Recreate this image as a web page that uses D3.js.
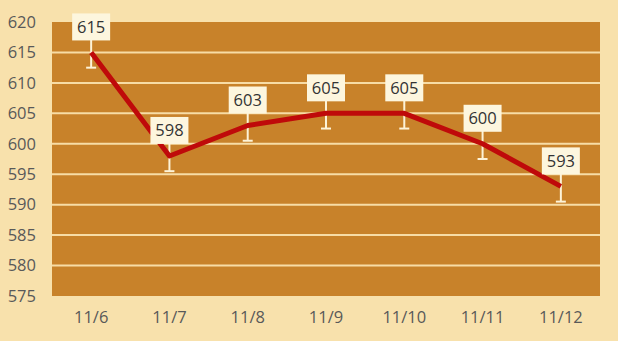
<!DOCTYPE html>
<html>
<head>
<meta charset="utf-8">
<script src="https://cdn.jsdelivr.net/npm/d3@7"></script>
<style>
  body { margin: 0; background: #f8e1ac; }
  svg { display: block; }
</style>
</head>
<body>
<script>
const dates = ["11/6", "11/7", "11/8", "11/9", "11/10", "11/11", "11/12"];
const prices = [615, 598, 603, 605, 605, 600, 593];
const yTicks = [575, 580, 585, 590, 595, 600, 605, 610, 615, 620];
const errMinus = 2.5;

const width = 618, height = 341;
const margin = { top: 22, right: 18, bottom: 45, left: 52 };

const svg = d3.select("body").append("svg")
  .attr("width", width)
  .attr("height", height);

svg.append("rect").attr("width", width).attr("height", height).attr("fill", "#f8e1ac");

const x = d3.scaleBand().domain(dates).range([margin.left, width - margin.right]);
const y = d3.scaleLinear().domain([575, 620]).range([height - margin.bottom, margin.top]);

// plot area
svg.append("rect")
  .attr("x", margin.left).attr("y", y(620))
  .attr("width", x.range()[1] - margin.left)
  .attr("height", y(575) - y(620))
  .attr("fill", "#c8822a");

// gridlines
svg.append("g").selectAll("line")
  .data(yTicks.filter(d => d > 575 && d < 620))
  .join("line")
  .attr("x1", margin.left).attr("x2", x.range()[1])
  .attr("y1", d => y(d)).attr("y2", d => y(d))
  .attr("stroke", "#f7dca6").attr("stroke-width", 2);

// y axis labels
const yAxis = svg.append("g")
  .attr("transform", `translate(${margin.left},0)`)
  .call(d3.axisLeft(y).tickValues(yTicks).tickSize(0).tickPadding(16));
yAxis.select(".domain").remove();
yAxis.selectAll("text")
  .attr("fill", "#595959").style("font-size", "16.5px").style("font-family", "'Open Sans', sans-serif");

// x axis labels
const xAxis = svg.append("g")
  .attr("transform", `translate(0,${y(575)})`)
  .call(d3.axisBottom(x).tickSize(0).tickPadding(15));
xAxis.select(".domain").remove();
xAxis.selectAll("text")
  .attr("fill", "#595959").style("font-size", "16.5px").style("font-family", "'Open Sans', sans-serif");

const cx = d => x(d) + x.bandwidth() / 2;

// error bars
const eb = svg.append("g").selectAll("g")
  .data(dates.map((d, i) => ({ d, v: prices[i] })))
  .join("g");
eb.append("line")
  .attr("x1", p => cx(p.d)).attr("x2", p => cx(p.d))
  .attr("y1", p => y(p.v) - 14).attr("y2", p => y(p.v - errMinus))
  .attr("stroke", "#fdf3d8").attr("stroke-width", 2);
eb.append("line")
  .attr("x1", p => cx(p.d) - 5).attr("x2", p => cx(p.d) + 5)
  .attr("y1", p => y(p.v - errMinus)).attr("y2", p => y(p.v - errMinus))
  .attr("stroke", "#fdf3d8").attr("stroke-width", 2);

// line
const line = d3.line().x((d, i) => cx(dates[i])).y(d => y(d));
svg.append("path")
  .datum(prices)
  .attr("d", line)
  .attr("fill", "none")
  .attr("stroke", "#bf0a0a")
  .attr("stroke-width", 5)
  .attr("stroke-linejoin", "round");

// data labels
const lab = svg.append("g").selectAll("g")
  .data(dates.map((d, i) => ({ d, v: prices[i] })))
  .join("g")
  .attr("transform", p => `translate(${cx(p.d)},${y(p.v) - 25.5})`);
lab.append("rect")
  .attr("x", -19).attr("y", -13.5).attr("width", 38).attr("height", 27)
  .attr("fill", "#fdf6de");
lab.append("text")
  .attr("text-anchor", "middle").attr("dy", "0.36em")
  .attr("fill", "#333").style("font-size", "16.5px").style("font-family", "'Open Sans', sans-serif")
  .text(p => p.v);
</script>
</body>
</html>
